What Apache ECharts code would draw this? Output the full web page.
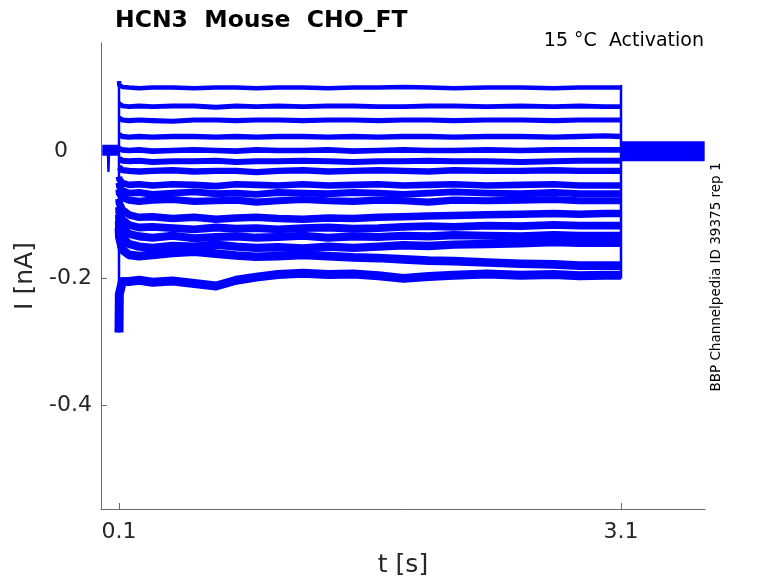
<!DOCTYPE html>
<html>
<head>
<meta charset="utf-8">
<script src="https://cdn.jsdelivr.net/npm/echarts@6/dist/echarts.min.js"></script>
<style>
html,body{margin:0;padding:0;background:#fff;overflow:hidden;}
#chart{width:778px;height:583px;}
</style>
</head>
<body>
<div id="chart"></div>
<script>
// ---- data ----
const titleText = 'HCN3  Mouse  CHO_FT';
const subText = '15 °C  Activation';
const sideText = 'BBP Channelpedia ID 39375 rep 1';
const xTicks = [0.1, 3.1];
const yTicks = [-0.4, -0.2, 0];

// holding period before the step (s, nA)
const preT = [0, 0.1];
const preI = [0.0015, 0.0015];
const dipT = [0.034, 0.037, 0.040];
const dipI = [0.0, -0.031, 0.0];
// tail after the step
const tailT = [3.1, 3.6];
const tailI = [0.0, 0.0];
// step edges (onset spike range, offset range)
const onsetT = [0.1, 0.1];
const onsetI = [0.110, -0.285];
const offsetT = [3.1, 3.1];
const offsetI = [0.104, -0.200];

// sample times during the step
const stepT = [0.1, 0.102, 0.12, 0.16, 0.22, 0.3, 0.42, 0.55, 0.68, 0.8, 0.92, 1.05, 1.2, 1.35, 1.5, 1.65, 1.8, 1.95, 2.1, 2.3, 2.5, 2.7, 2.85, 3.0, 3.1];

const trace1  = [0.110, 0.104, 0.101, 0.100, 0.099, 0.100, 0.100, 0.099, 0.100, 0.100, 0.099, 0.100, 0.100, 0.099, 0.100, 0.100, 0.101, 0.100, 0.099, 0.100, 0.100, 0.099, 0.100, 0.100, 0.100];
const trace2  = [0.075, 0.073, 0.071, 0.070, 0.071, 0.070, 0.071, 0.071, 0.069, 0.071, 0.070, 0.071, 0.070, 0.071, 0.071, 0.070, 0.070, 0.071, 0.071, 0.070, 0.071, 0.070, 0.071, 0.070, 0.070];
const trace3  = [0.052, 0.050, 0.049, 0.048, 0.049, 0.048, 0.047, 0.049, 0.049, 0.048, 0.049, 0.049, 0.048, 0.049, 0.049, 0.048, 0.049, 0.049, 0.048, 0.049, 0.049, 0.048, 0.049, 0.049, 0.049];
const trace4  = [0.026, 0.024, 0.023, 0.022, 0.023, 0.022, 0.023, 0.023, 0.022, 0.023, 0.022, 0.023, 0.023, 0.022, 0.023, 0.022, 0.023, 0.023, 0.022, 0.023, 0.023, 0.022, 0.023, 0.024, 0.023];
const trace5  = [0.004, 0.003, 0.002, 0.001, 0.002, 0.000, 0.001, 0.002, 0.001, 0.000, 0.002, 0.001, 0.001, 0.002, 0.000, 0.001, 0.002, 0.001, 0.001, 0.002, 0.001, 0.002, 0.002, 0.002, 0.002];
const trace6  = [-0.012, -0.014, -0.015, -0.016, -0.015, -0.017, -0.016, -0.016, -0.015, -0.017, -0.016, -0.016, -0.015, -0.016, -0.017, -0.016, -0.016, -0.015, -0.016, -0.016, -0.017, -0.016, -0.015, -0.015, -0.015];
const trace7  = [-0.025, -0.027, -0.030, -0.031, -0.032, -0.031, -0.030, -0.032, -0.031, -0.031, -0.033, -0.031, -0.030, -0.032, -0.031, -0.030, -0.031, -0.032, -0.030, -0.031, -0.031, -0.030, -0.031, -0.031, -0.031];
const trace8  = [-0.040, -0.044, -0.050, -0.053, -0.052, -0.054, -0.052, -0.053, -0.055, -0.052, -0.053, -0.054, -0.052, -0.054, -0.053, -0.052, -0.054, -0.053, -0.052, -0.054, -0.053, -0.052, -0.054, -0.054, -0.054];
const trace9  = [-0.050, -0.055, -0.062, -0.066, -0.065, -0.068, -0.066, -0.064, -0.067, -0.066, -0.068, -0.065, -0.066, -0.067, -0.065, -0.066, -0.068, -0.066, -0.064, -0.066, -0.067, -0.065, -0.067, -0.067, -0.067];
const trace10 = [-0.060, -0.066, -0.073, -0.077, -0.079, -0.077, -0.076, -0.079, -0.078, -0.077, -0.080, -0.078, -0.076, -0.078, -0.079, -0.077, -0.078, -0.080, -0.077, -0.078, -0.077, -0.076, -0.078, -0.078, -0.078];
const trace11 = [-0.075, -0.082, -0.092, -0.100, -0.104, -0.103, -0.106, -0.104, -0.107, -0.105, -0.104, -0.106, -0.107, -0.105, -0.106, -0.104, -0.103, -0.102, -0.101, -0.100, -0.099, -0.098, -0.099, -0.098, -0.098];
const trace12 = [-0.088, -0.097, -0.108, -0.116, -0.120, -0.119, -0.121, -0.123, -0.120, -0.122, -0.121, -0.123, -0.121, -0.120, -0.122, -0.121, -0.119, -0.118, -0.119, -0.117, -0.118, -0.116, -0.117, -0.117, -0.117];
const trace13 = [-0.100, -0.110, -0.122, -0.130, -0.134, -0.136, -0.133, -0.137, -0.135, -0.134, -0.136, -0.135, -0.133, -0.136, -0.134, -0.135, -0.133, -0.134, -0.132, -0.133, -0.134, -0.132, -0.133, -0.133, -0.133];
const trace14 = [-0.110, -0.122, -0.136, -0.146, -0.150, -0.152, -0.149, -0.150, -0.147, -0.150, -0.152, -0.151, -0.153, -0.150, -0.152, -0.150, -0.148, -0.149, -0.147, -0.146, -0.145, -0.143, -0.144, -0.144, -0.144];
const trace15 = [-0.120, -0.135, -0.155, -0.163, -0.165, -0.163, -0.160, -0.158, -0.161, -0.164, -0.166, -0.165, -0.163, -0.165, -0.167, -0.168, -0.170, -0.172, -0.173, -0.175, -0.177, -0.178, -0.180, -0.180, -0.180];
const trace16 = [-0.285, -0.225, -0.205, -0.205, -0.203, -0.206, -0.204, -0.208, -0.212, -0.203, -0.198, -0.194, -0.192, -0.194, -0.193, -0.196, -0.200, -0.197, -0.195, -0.193, -0.195, -0.194, -0.196, -0.195, -0.195];

const traces = [trace1, trace2, trace3, trace4, trace5, trace6, trace7, trace8,
                trace9, trace10, trace11, trace12, trace13, trace14, trace15, trace16];

// ---- build chart ----
const FONT = 'DejaVu Sans';
const BLUE = '#0000ff';
const chart = echarts.init(document.getElementById('chart'), null, {renderer: 'canvas', width: 778, height: 583});

const pairs = (xs, ys) => xs.map((x, i) => [x, ys[i]]);
const lineSeries = (data, width, z) => ({type: 'line', data: data, symbol: 'none', silent: true,
  lineStyle: {color: BLUE, width: width, join: 'round', cap: 'butt'}, z: z});

const series = [];
series.push(lineSeries(pairs(preT, preI), 11, 2));
series.push(lineSeries(pairs(dipT, dipI), 2.5, 2));
series.push(lineSeries(pairs(tailT, tailI), 20, 2));
series.push(lineSeries(pairs(onsetT, onsetI), 2.5, 4));
series.push(lineSeries(pairs(offsetT, offsetI), 2.5, 4));
traces.forEach((tr, i) => {
  series.push(lineSeries(pairs(stepT, tr), 4.5 + i * 0.3, 3));
});

chart.setOption({
  animation: false,
  backgroundColor: '#ffffff',
  grid: {left: 101, width: 604, top: 43, height: 469, containLabel: false},
  title: {
    text: titleText, left: 110, top: 4,
    textStyle: {fontFamily: FONT, fontWeight: 'bold', fontSize: 23.5, color: '#000'}
  },
  xAxis: {
    type: 'value', min: -0.0076, max: 3.602,
    name: 't [s]', nameLocation: 'middle', nameGap: 44,
    nameTextStyle: {fontFamily: FONT, fontSize: 25, color: '#262626'},
    axisLine: {show: true, onZero: false, lineStyle: {color: '#6b6b6b', width: 1}},
    axisTick: {show: true, inside: true, length: 6, customValues: xTicks, lineStyle: {color: '#6b6b6b'}},
    axisLabel: {customValues: xTicks, fontFamily: FONT, fontSize: 22, color: '#262626', margin: 12,
      formatter: v => String(v)},
    splitLine: {show: false}
  },
  yAxis: {
    type: 'value', min: -0.5625, max: 0.17,
    name: 'I [nA]', nameLocation: 'middle', nameGap: 56, nameRotate: 90,
    nameTextStyle: {fontFamily: FONT, fontSize: 25, color: '#262626'},
    axisLine: {show: true, onZero: false, lineStyle: {color: '#6b6b6b', width: 1}},
    axisTick: {show: true, inside: true, length: 6, customValues: yTicks, lineStyle: {color: '#6b6b6b'}},
    axisLabel: {customValues: yTicks, fontFamily: FONT, fontSize: 22, color: '#262626', margin: 9,
      formatter: v => (v === 0 ? '{z|0}' : String(v)),
      rich: {z: {fontFamily: FONT, fontSize: 22, color: '#262626', padding: [0, 24, 0, 0]}}},
    splitLine: {show: false}
  },
  graphic: [
    {type: 'text', x: 704, y: 41, style: {text: subText, fontFamily: FONT, fontSize: 19,
      fill: '#000', align: 'right', verticalAlign: 'middle'}},
    {type: 'text', x: 716, y: 277, rotation: Math.PI / 2, style: {text: sideText, fontFamily: FONT,
      fontSize: 13.5, fill: '#000', align: 'center', verticalAlign: 'middle'}}
  ],
  series: series
});
</script>
</body>
</html>
